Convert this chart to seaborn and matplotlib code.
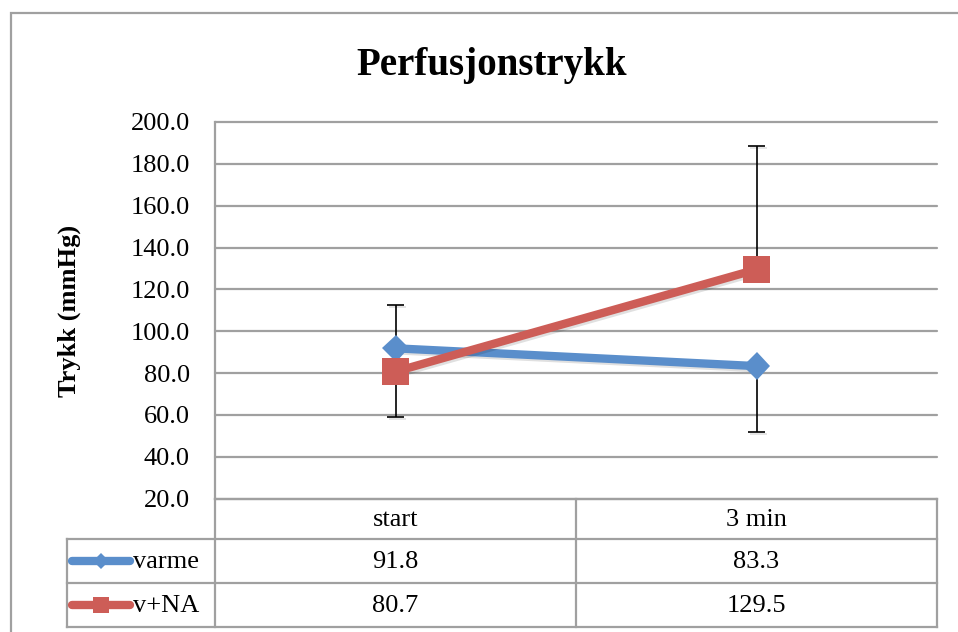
import numpy as np
import pandas as pd
import matplotlib
matplotlib.use("Agg")
import matplotlib.pyplot as plt
import matplotlib.patheffects as pe
from matplotlib.patches import Rectangle
import seaborn as sns

# ---- data -------------------------------------------------------------
categories = ["start", "3 min"]
series_names = ["varme", "v+NA"]
varme = [91.8, 83.3]
v_na = [80.7, 129.5]
# error bar extents below / above each point
varme_err_lo = [0.0, 31.7]
varme_err_hi = [20.6, 0.0]
v_na_err_lo = [21.9, 0.0]
v_na_err_hi = [0.0, 59.0]
y_ticks = [20, 40, 60, 80, 100, 120, 140, 160, 180, 200]

title = "Perfusjonstrykk"
y_label = "Trykk (mmHg)"

# ---- style ------------------------------------------------------------
sns.set_theme(style="white")
plt.rcParams["font.family"] = ["Liberation Serif", "DejaVu Serif"]
plt.rcParams["text.color"] = "black"
plt.rcParams["axes.labelcolor"] = "black"

colors = {"varme": "#5A8ECB", "v+NA": "#CD5D57"}
markers = {"varme": "D", "v+NA": "s"}
msizes = {"varme": 14, "v+NA": 19.5}
key_msizes = {"varme": 8.5, "v+NA": 12}
grid_col = "#A0A0A0"
grid_lw = 1.6

W, H = 958, 632
fig = plt.figure(figsize=(W / 100, H / 100), dpi=100)


def fx(px):
    return px / W


def fy(py):
    return 1 - py / H


# ---- plot area ----------------------------------------------------------
x_left, x_right, y_top, y_bot = 215, 937, 122, 498.5
ax = fig.add_axes([fx(x_left), fy(y_bot), fx(x_right) - fx(x_left), fy(y_top) - fy(y_bot)])

pos = np.arange(len(categories))
df = pd.DataFrame({
    "pos": np.concatenate([pos, pos]),
    "trykk": varme + v_na,
    "serie": [series_names[0]] * len(categories) + [series_names[1]] * len(categories),
})

err = {
    "varme": (varme, varme_err_lo, varme_err_hi),
    "v+NA": (v_na, v_na_err_lo, v_na_err_hi),
}
for name in series_names:
    vals, lo, hi = err[name]
    vals, lo, hi = np.array(vals), np.array(lo), np.array(hi)
    m = (lo + hi) > 0
    ax.errorbar(pos[m], vals[m], yerr=[lo[m], hi[m]], fmt="none", ecolor="black",
                elinewidth=1.2, capsize=6, capthick=1.2, zorder=3)

shadow = [pe.SimpleLineShadow(offset=(1.5, -1.5), shadow_color="black", alpha=0.12), pe.Normal()]
for name in series_names:
    sub = df[df["serie"] == name]
    sns.lineplot(data=sub, x="pos", y="trykk", ax=ax, color=colors[name],
                 marker=markers[name], markersize=msizes[name], markeredgewidth=0,
                 linewidth=6, sort=False, zorder=4, legend=False)
for line in ax.get_lines():
    line.set_path_effects(shadow)

ax.set_xlim(-0.5, len(categories) - 0.5)
ax.set_ylim(y_ticks[0], y_ticks[-1])
ax.set_yticks(y_ticks)
ax.set_yticklabels([f"{t:.1f}" for t in y_ticks])
ax.set_xticks([])
ax.set_xlabel("")
ax.set_ylabel("")
ax.yaxis.grid(True, color=grid_col, linewidth=grid_lw)
ax.set_axisbelow(True)
for gl in ax.get_ygridlines():
    gl.set_clip_on(False)
for side in ["top", "right", "bottom"]:
    ax.spines[side].set_visible(False)
ax.spines["left"].set_color(grid_col)
ax.spines["left"].set_linewidth(grid_lw)
ax.tick_params(axis="y", length=0, pad=18, labelsize=19, labelcolor="black")

# ---- data table ---------------------------------------------------------
t_left, t_bot = 67, 627
px_per_unit = (x_right - x_left) / len(categories)
x0 = -0.5 - (x_left - t_left) / px_per_unit
tab = fig.add_axes([fx(t_left), fy(t_bot), fx(x_right) - fx(t_left), fy(y_bot) - fy(t_bot)])
tab.set_axis_off()
tab.set_xlim(x0, len(categories) - 0.5)
tab.set_ylim(t_bot, y_bot)

rows = [y_bot, 539, 583, t_bot]
lk = dict(color=grid_col, linewidth=grid_lw, clip_on=False, solid_capstyle="projecting")
tab.plot([-0.5, len(categories) - 0.5], [rows[0], rows[0]], **lk)
for r in rows[1:]:
    tab.plot([x0, len(categories) - 0.5], [r, r], **lk)
tab.plot([x0, x0], [rows[1], rows[-1]], **lk)
for xv in np.arange(len(categories) + 1) - 0.5:
    tab.plot([xv, xv], [rows[0], rows[-1]], **lk)

fs_tab = 19
for i, c in enumerate(categories):
    tab.text(i, (rows[0] + rows[1]) / 2 + 1, c, ha="center", va="center", fontsize=fs_tab)

for k, name in enumerate(series_names):
    vals = err[name][0]
    yc = (rows[k + 1] + rows[k + 2]) / 2
    for i, v in enumerate(vals):
        tab.text(i, yc + 1, f"{v:.1f}", ha="center", va="center", fontsize=fs_tab)
    ka, kb = x0 + 5 / px_per_unit, x0 + 63 / px_per_unit
    tab.plot([ka, kb], [yc, yc], color=colors[name], linewidth=6,
             solid_capstyle="round", clip_on=False)
    tab.plot([(ka + kb) / 2], [yc], marker=markers[name], markersize=key_msizes[name],
             markeredgewidth=0, color=colors[name], clip_on=False)
    tab.text(x0 + 66 / px_per_unit, yc + 1, name, ha="left", va="center", fontsize=fs_tab)

# ---- titles and frame ---------------------------------------------------
fig.text(fx(492), fy(66), title, ha="center", va="center", fontsize=28,
         fontweight="bold", color="black")
fig.text(fx(69), fy(311), y_label, ha="center", va="center", rotation=90,
         fontsize=19, fontweight="bold", color="black")

fig.add_artist(Rectangle((fx(11), fy(800)), 2.0, fy(13) - fy(800), transform=fig.transFigure,
                         fill=False, edgecolor=grid_col, linewidth=grid_lw))

fig.savefig("out.png", dpi=100)
